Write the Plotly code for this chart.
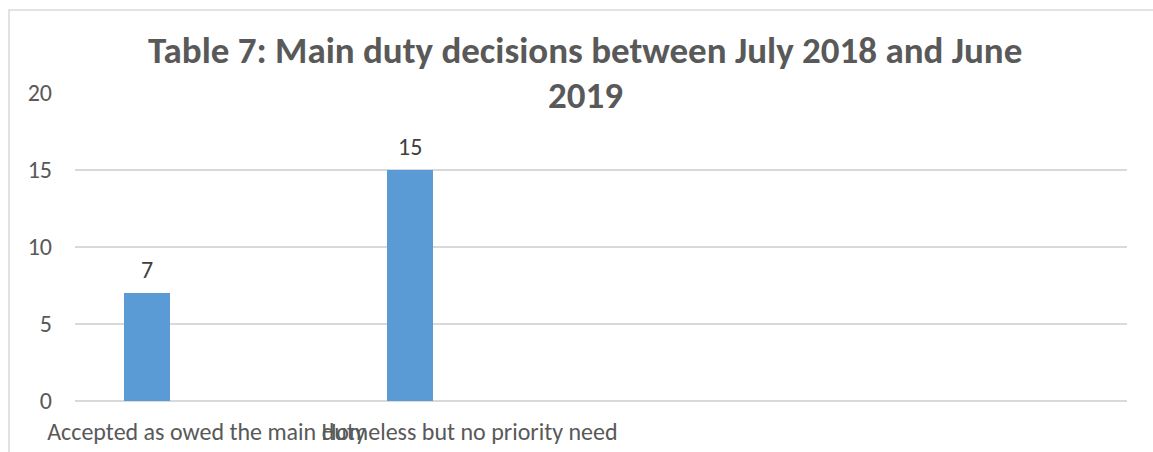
import plotly.graph_objects as go

# Main duty decisions, July 2018 - June 2019
categories = ["Accepted as owed the main duty", "Homeless but no priority need"]
decisions = [7, 15]
y_ticks = [0, 5, 10, 15, 20]
title_lines = ["Table 7: Main duty decisions between July 2018 and June", "2019"]

FONT = "Calibri, Carlito, Lato, sans-serif"
GRID = "#d9d9d9"
TEXT = "#595959"

W, H = 1153, 452
ML, MR, MT, MB = 75, 26, 93, 51
plot_w = W - ML - MR
plot_h = H - MT - MB

BAR_WIDTH = 0.175
BAR_OFFSET = -0.314

fig = go.Figure(
    go.Bar(
        x=categories,
        y=decisions,
        marker_color="#5b9bd5",
        marker_line_width=0,
        width=BAR_WIDTH,
        offset=BAR_OFFSET,
        cliponaxis=False,
        hoverinfo="x+y",
    )
)

# value labels above each bar
annotations = [
    dict(
        text=str(v),
        xref="x", yref="y",
        x=i + BAR_OFFSET + BAR_WIDTH / 2,
        y=v,
        yshift=24,
        xanchor="center", yanchor="middle",
        showarrow=False,
        font=dict(family=FONT, size=24, color="#404040"),
    )
    for i, v in enumerate(decisions)
]

# wrapped chart title, one annotation per line
title_y = [51, 96]
annotations += [
    dict(
        text=f"<b>{line}</b>",
        xref="paper", yref="paper",
        x=(585 - ML) / plot_w,
        y=(H - MB - ty) / plot_h,
        xanchor="center", yanchor="middle",
        showarrow=False,
        font=dict(family=FONT, size=37, color=TEXT),
    )
    for line, ty in zip(title_lines, title_y)
]

# chart area border
shapes = [
    dict(
        type="rect", xref="paper", yref="paper",
        x0=(9 - ML) / plot_w, x1=1.2,
        y0=-0.5, y1=(H - MB - 10) / plot_h,
        line=dict(color=GRID, width=1.5),
        fillcolor="rgba(0,0,0,0)",
        layer="below",
    )
]

fig.update_layout(
    width=W, height=H,
    margin=dict(l=ML, r=MR, t=MT, b=MB, pad=0, autoexpand=False),
    paper_bgcolor="white", plot_bgcolor="white",
    showlegend=False,
    annotations=annotations,
    shapes=shapes,
    bargap=0,
    font=dict(family=FONT, color=TEXT),
)

fig.update_xaxes(
    type="category",
    range=[-0.5, 3.5],
    tickangle=0,
    automargin=False,
    showgrid=False,
    showline=False,
    zeroline=False,
    ticks="",
    tickfont=dict(family=FONT, size=24, color=TEXT),
    ticklabelstandoff=14,
    fixedrange=True,
)
fig.update_yaxes(
    range=[0, 20],
    tickvals=y_ticks,
    automargin=False,
    showgrid=True,
    gridcolor=GRID,
    gridwidth=1.5,
    zeroline=True,
    zerolinecolor=GRID,
    zerolinewidth=1.5,
    showline=False,
    ticks="",
    tickfont=dict(family=FONT, size=24, color=TEXT),
    ticklabelstandoff=22,
    fixedrange=True,
)

fig.write_html("out.html", config={"displayModeBar": False})
